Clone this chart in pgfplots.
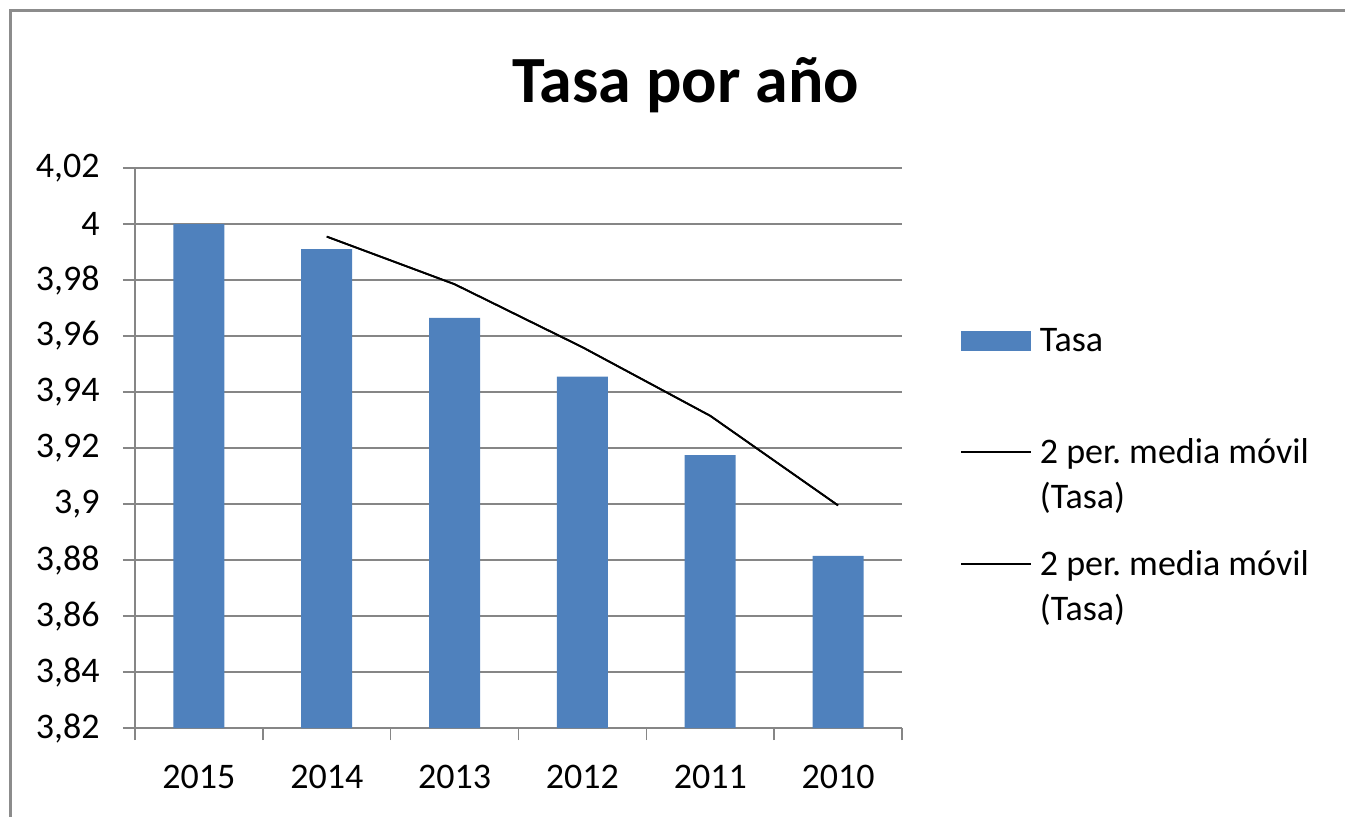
\documentclass[border=0pt]{standalone}
\usepackage{fontspec}
\setmainfont{Carlito}
\usepackage{pgfplots}
\pgfplotsset{compat=1.18}
\definecolor{barblue}{HTML}{4F81BD}
\definecolor{gridgray}{HTML}{868686}

\begin{document}
\frenchspacing
\begin{tikzpicture}[x=1pt,y=1pt]
% page: 1345 x 816 px at 0.5pt per px
\useasboundingbox (0,0) rectangle (672.5,-408);
\draw[line width=1.5pt, black!45] (5,-430) -- (5,-5) -- (700,-5);
\begin{axis}[
    at={(67.5pt,-364pt)}, anchor=south west,
    scale only axis, width=383.5pt, height=280pt,
    xmin=-0.5, xmax=5.5, ymin=3.82, ymax=4.02,
    axis lines*=left,
    axis line style={gridgray, line width=0.75pt, -},
    ymajorgrids, grid style={gridgray, line width=0.75pt},
    tick align=outside, major tick length=6pt, minor tick length=6pt,
    tick style={gridgray, line width=0.75pt},
    xtick={0,1,2,3,4,5},
    xticklabels={2015,2014,2013,2012,2011,2010},
    x tick style={draw=none},
    minor xtick={-0.5,0.5,1.5,2.5,3.5,4.5,5.5},
    minor x tick style={draw=gridgray},
    ytick={3.82,3.84,3.86,3.88,3.9,3.92,3.94,3.96,3.98,4,4.02},
    /pgf/number format/.cd, use comma, fixed, precision=2, assume math mode=true,
    /pgfplots/.cd,
    tick label style={font=\fontsize{18}{22}\selectfont, black},
    yticklabel style={inner sep=0pt, xshift=-11.5pt},
    xticklabel style={inner sep=0pt, yshift=-12.5pt},
    title={Tasa por año},
    title style={font=\bfseries\fontsize{33}{40}\selectfont, anchor=base,
        at={(axis description cs:0.718,1)}, yshift=27pt},
    legend style={draw=none, fill=none, inner sep=0pt,
        at={(axis description cs:1.0756,0.7275)}, anchor=north west,
        font=\fontsize{18}{22.5}\selectfont, row sep=19.5pt, column sep=4pt,
        nodes={align=left, inner sep=0pt}},
    legend cell align=left,
]
\addplot[ybar, bar width=25.5pt, fill=barblue, draw=none,
    legend image code/.code={%
        \path[draw=none, fill=none] (0pt,-11.25pt) -- (0pt,21.25pt);
        \fill[barblue] (0pt,6.25pt) rectangle (35pt,16.25pt);}]
    coordinates {(0,4.000) (1,3.991) (2,3.9665) (3,3.9455) (4,3.9175) (5,3.8815)};
\addlegendentry{Tasa\\\mbox{}}
\addplot[black, line width=0.9pt, mark=none,
    legend image code/.code={%
        \path[draw=none, fill=none] (0pt,-11.25pt) -- (0pt,11.25pt);
        \draw[black, line width=0.75pt] (0pt,11.25pt) -- (35pt,11.25pt);}]
    coordinates {(1,3.9955) (2,3.9785) (3,3.956) (4,3.9315) (5,3.8995)};
\addlegendentry{2 per. media móvil\\(Tasa)}
\addplot[black, line width=0.9pt, mark=none,
    legend image code/.code={%
        \path[draw=none, fill=none] (0pt,-11.25pt) -- (0pt,11.25pt);
        \draw[black, line width=0.75pt] (0pt,11.25pt) -- (35pt,11.25pt);}]
    coordinates {(1,3.9955) (2,3.9785) (3,3.956) (4,3.9315) (5,3.8995)};
\addlegendentry{2 per. media móvil\\(Tasa)}
\end{axis}
\end{tikzpicture}
\end{document}
